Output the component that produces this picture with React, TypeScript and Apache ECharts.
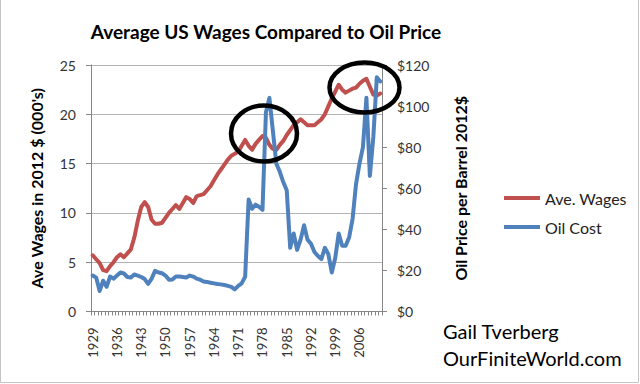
import React, { useEffect, useRef } from "react";
import * as echarts from "echarts";

const chartTitle = "Average US Wages Compared to Oil Price";
const leftAxisName = "Ave Wages in 2012 $ (000's)";
const rightAxisName = "Oil Price per Barrel 2012$";
const seriesNames = ["Ave. Wages", "Oil Cost"];
const credits = ["Gail Tverberg", "OurFiniteWorld.com"];

const years = [
  "1929", "1930", "1931", "1932", "1933", "1934", "1935", "1936", "1937", "1938",
  "1939", "1940", "1941", "1942", "1943", "1944", "1945", "1946", "1947", "1948",
  "1949", "1950", "1951", "1952", "1953", "1954", "1955", "1956", "1957", "1958",
  "1959", "1960", "1961", "1962", "1963", "1964", "1965", "1966", "1967", "1968",
  "1969", "1970", "1971", "1972", "1973", "1974", "1975", "1976", "1977", "1978",
  "1979", "1980", "1981", "1982", "1983", "1984", "1985", "1986", "1987", "1988",
  "1989", "1990", "1991", "1992", "1993", "1994", "1995", "1996", "1997", "1998",
  "1999", "2000", "2001", "2002", "2003", "2004", "2005", "2006", "2007", "2008",
  "2009", "2010", "2011", "2012",
];

// Average wages, thousands of 2012 dollars
const wages = [
  5.7, 5.3, 4.9, 4.2, 4.1, 4.6, 5.0, 5.5, 5.8, 5.5,
  5.9, 6.3, 7.5, 9.2, 10.6, 11.1, 10.6, 9.3, 8.9, 8.9,
  9.0, 9.5, 10.0, 10.4, 10.8, 10.4, 11.0, 11.6, 11.4, 11.0,
  11.7, 11.8, 11.9, 12.3, 12.7, 13.3, 13.9, 14.4, 14.9, 15.4,
  15.8, 16.0, 16.2, 16.8, 17.4, 16.8, 16.4, 17.0, 17.4, 17.8,
  17.6, 16.9, 16.5, 16.4, 16.9, 17.3, 17.9, 18.4, 18.9, 19.2,
  19.5, 19.2, 18.9, 18.9, 18.9, 19.2, 19.5, 20.0, 20.8, 21.6,
  22.3, 23.0, 22.5, 22.2, 22.4, 22.6, 22.7, 23.1, 23.4, 23.6,
  22.8, 22.0, 21.9, 22.1,
];

// Oil price per barrel, 2012 dollars
const oil = [
  17.5, 16.5, 10.0, 15.0, 12.0, 17.0, 16.0, 17.5, 19.0, 18.5,
  16.8, 16.5, 18.0, 17.5, 16.8, 15.8, 13.4, 16.0, 19.8, 19.0,
  18.6, 17.5, 15.5, 15.6, 17.0, 17.0, 16.8, 16.6, 17.5, 17.0,
  16.0, 15.5, 14.6, 14.4, 14.0, 13.7, 13.4, 13.2, 12.9, 12.5,
  12.0, 10.8, 12.5, 13.7, 17.0, 54.5, 50.0, 52.0, 51.0, 49.5,
  97.0, 104.0, 88.0, 72.0, 68.0, 63.0, 59.0, 31.0, 38.0, 30.0,
  35.0, 42.0, 35.0, 33.0, 29.0, 27.0, 25.5, 31.0, 28.0, 19.0,
  26.0, 38.0, 32.0, 32.0, 36.0, 45.0, 62.0, 72.0, 80.0, 104.0,
  66.0, 85.0, 114.0, 112.0,
];

const FONT = "Lato";
const AXIS_GREY = "#868686";

export default function App() {
  const ref = useRef<HTMLDivElement>(null);
  useEffect(() => {
    const chart = echarts.init(ref.current!, null, { renderer: "svg" });
    chart.setOption({
      animation: false,
      backgroundColor: "#ffffff",
      textStyle: { fontFamily: FONT },
      title: {
        text: chartTitle,
        left: 261,
        top: 17,
        textAlign: "center",
        textStyle: { fontFamily: FONT, fontWeight: "bold", fontSize: 19, color: "#000" },
      },
      grid: { left: 91, right: 258, top: 65, bottom: 72.5, containLabel: false },
      legend: {
        orient: "vertical",
        left: 499,
        top: 185,
        itemWidth: 36,
        itemHeight: 4,
        itemGap: 13,
        icon: "rect",
        textStyle: { fontFamily: FONT, fontSize: 16, color: "#222" },
        data: seriesNames,
      },
      xAxis: {
        type: "category",
        data: years,
        boundaryGap: true,
        axisLine: { lineStyle: { color: AXIS_GREY, width: 1 } },
        axisTick: { show: true, interval: 0, length: 4, lineStyle: { color: AXIS_GREY } },
        axisLabel: {
          interval: 6,
          rotate: 90,
          margin: 16,
          fontSize: 13,
          color: "#333",
          fontFamily: FONT,
        },
        splitLine: { show: false },
      },
      yAxis: [
        {
          type: "value",
          position: "left",
          min: 0,
          max: 25,
          interval: 5,
          name: leftAxisName,
          nameLocation: "middle",
          nameRotate: 90,
          nameGap: 47,
          nameTextStyle: { fontFamily: FONT, fontWeight: "bold", fontSize: 16, color: "#000" },
          axisLine: { show: true, lineStyle: { color: AXIS_GREY } },
          axisTick: { show: true, length: 5, lineStyle: { color: AXIS_GREY } },
          axisLabel: { margin: 15, fontSize: 14, color: "#333", fontFamily: FONT },
          splitLine: { show: true, lineStyle: { color: "#b3b3b3", width: 1 } },
        },
        {
          type: "value",
          position: "right",
          min: 0,
          max: 120,
          interval: 20,
          name: rightAxisName,
          nameLocation: "middle",
          nameRotate: 90,
          nameGap: 70,
          nameTextStyle: {
            fontFamily: FONT,
            fontWeight: "bold",
            fontSize: 16,
            color: "#000",
          },
          axisLine: { show: true, lineStyle: { color: AXIS_GREY } },
          axisTick: { show: true, length: 5, lineStyle: { color: AXIS_GREY } },
          axisLabel: {
            margin: 15,
            fontSize: 14,
            color: "#333",
            fontFamily: FONT,
            formatter: (v: number) => "$" + v,
          },
          splitLine: { show: false },
        },
      ],
      series: [
        {
          name: seriesNames[0],
          type: "line",
          yAxisIndex: 0,
          data: wages,
          symbol: "none",
          color: "#c0504d",
          lineStyle: { width: 4, color: "#c0504d", join: "round", cap: "round" },
        },
        {
          name: seriesNames[1],
          type: "line",
          yAxisIndex: 1,
          data: oil,
          symbol: "none",
          color: "#4f81bd",
          lineStyle: { width: 4, color: "#4f81bd", join: "round", cap: "round" },
        },
      ],
      graphic: [
        {
          type: "rect",
          silent: true,
          shape: { x: 0.5, y: -5, width: 638, height: 387.5 },
          style: { fill: "none", stroke: "#c4c4c4", lineWidth: 1 },
        },
        {
          type: "ellipse",
          silent: true,
          z: 100,
          shape: { cx: 264, cy: 133.5, rx: 33, ry: 28 },
          style: { fill: "none", stroke: "#000", lineWidth: 4.5 },
        },
        {
          type: "ellipse",
          silent: true,
          z: 100,
          shape: { cx: 364.5, cy: 87.5, rx: 35, ry: 25 },
          style: { fill: "none", stroke: "#000", lineWidth: 4.5 },
        },
        {
          type: "text",
          silent: true,
          left: 443,
          top: 321,
          style: { text: credits[0], fontFamily: FONT, fontSize: 20, fill: "#000" },
        },
        {
          type: "text",
          silent: true,
          left: 443,
          top: 348,
          style: { text: credits[1], fontFamily: FONT, fontSize: 20, fill: "#000" },
        },
      ],
    });
    return () => chart.dispose();
  }, []);
  return (
    <div
      ref={ref}
      style={{ position: "absolute", left: 0, top: 0, width: 640, height: 384, background: "#fff" }}
    />
  );
}
